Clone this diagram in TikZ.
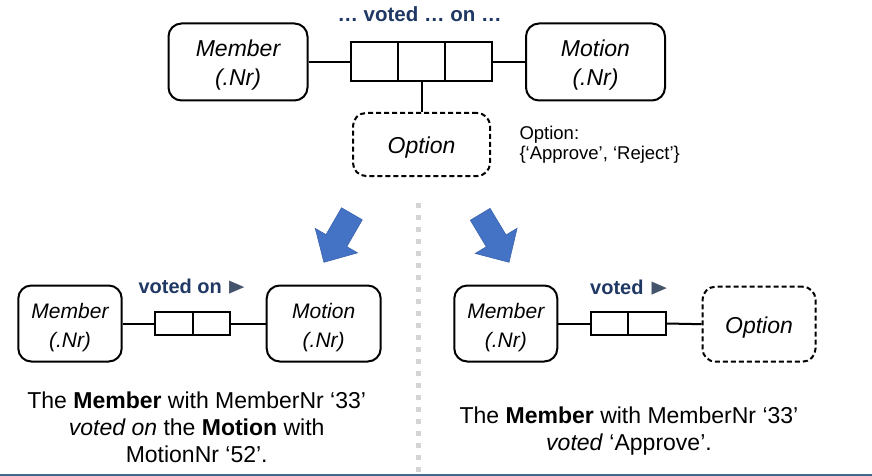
\documentclass[tikz,border=0pt]{standalone}
\usepackage{fontspec}
\usepackage{graphicx}
\setmainfont{Liberation Sans}
\newfontfamily\symfont{DejaVu Sans}
\newcommand{\lowertext}[2]{\raisebox{-#1}[\height][\depth]{#2}}
\definecolor{titleblue}{HTML}{1F3864}
\definecolor{trigray}{HTML}{44546A}
\definecolor{arrowblue}{HTML}{4472C4}
\definecolor{arrowedge}{HTML}{3B64AD}
\definecolor{sepgray}{HTML}{D4D4D4}
\definecolor{slideline}{HTML}{41688F}
\begin{document}
\begin{tikzpicture}[x=1pt,y=-1pt,
  ln/.style={line width=2pt},
  objbox/.style={draw, line width=2pt, rounded corners=13pt, align=center, inner sep=0pt},
  bigobj/.style={objbox, minimum width=139pt, minimum height=77pt, font=\fontsize{23}{29}\selectfont\itshape},
  bigopt/.style={objbox, dashed, dash pattern=on 5pt off 3pt, minimum width=137pt, minimum height=63pt, font=\fontsize{23}{29}\selectfont\itshape},
  smallobj/.style={objbox, minimum height=76pt, font=\fontsize{21}{28.5}\selectfont\itshape},
  smallopt/.style={objbox, dashed, dash pattern=on 5pt off 3pt, minimum width=113pt, minimum height=75pt, font=\fontsize{23}{28.5}\selectfont\itshape},
  bigcell/.style={draw, line width=2pt, minimum width=47pt, minimum height=39pt, inner sep=0pt},
  smallcell/.style={draw, line width=2pt, minimum width=37.5pt, minimum height=22.5pt, inner sep=0pt},
  verb/.style={inner sep=0pt, text=titleblue, font=\fontsize{20}{24}\selectfont\bfseries},
  pointer/.style={inner sep=0pt, text=trigray, font=\fontsize{20}{20}\selectfont\symfont},
  caption/.style={inner sep=0pt, align=center, font=\fontsize{23}{27}\selectfont},
  note/.style={inner sep=0pt, align=left, font=\fontsize{18.5}{20.5}\selectfont},
  bluearrow/.style={fill=arrowblue, draw=arrowedge, line width=0.6pt, line join=miter},
  sepline/.style={draw=sepgray, line width=5pt, dash pattern=on 5pt off 7pt}
]
\useasboundingbox (0,0) rectangle (872,476);

% ---------- top diagram ----------
\node[verb, font=\fontsize{20.5}{24}\selectfont\bfseries, anchor=base] (title) at (419.5,22) {… voted … on …};
\node[bigobj] (member) at (238,62) {\lowertext{3pt}{Member}\\\lowertext{3pt}{(.Nr)}};
\node[bigobj] (motion) at (595.5,62) {\lowertext{3pt}{Motion}\\\lowertext{3pt}{(.Nr)}};
\node[bigcell] (c1) at (374.5,62) {};
\node[bigcell] (c2) at (421.5,62) {};
\node[bigcell] (c3) at (468.5,62) {};
\node[bigopt] (option) at (421.5,144.5) {\lowertext{3pt}{Option}};
\draw[ln] (member.east) -- (c1.west);
\draw[ln] (c3.east) -- (motion.west);
\draw[ln] (c2.south) -- (option.north);
\node[note, anchor=north west] (optnote) at (519.3,125.5) {Option:\\\{‘Approve’, ‘Reject’\}};

% ---------- arrows and separator ----------
\path[bluearrow, shift={(351.9,213.8)}, rotate=-120]
  (0,-12) -- (31,-12) -- (31,-24.4) -- (56,0) -- (31,24.4) -- (31,12) -- (0,12) -- cycle;
\path[bluearrow, shift={(480.2,214.3)}, rotate=-59]
  (0,-11.5) -- (31,-11.5) -- (31,-24.4) -- (56,0) -- (31,24.4) -- (31,11.5) -- (0,11.5) -- cycle;
\path[sepline] (418,203) -- (418,474);

% ---------- bottom left ----------
\node[smallobj, minimum width=103.4pt] (memberL) at (70,323.5) {\lowertext{4pt}{Member}\\\lowertext{4pt}{(.Nr)}};
\node[smallobj, minimum width=114pt] (motionL) at (323.7,323.5) {\lowertext{4pt}{Motion}\\\lowertext{4pt}{(.Nr)}};
\node[smallcell] (l1) at (173.75,323.5) {};
\node[smallcell] (l2) at (211.25,323.5) {};
\draw[ln] (memberL.east) -- (l1.west);
\draw[ln] (l2.east) -- (motionL.west);
\node[verb, anchor=base west] (verbL) at (138.3,293) {voted on};
\node[pointer, anchor=west] (triL) at (229,287.5) {\scalebox{1}[1.33]{►}};
\node[caption, anchor=north] (capL) at (196.7,391.7)
  {The \textbf{Member} with MemberNr ‘33’\\\textit{voted on} the \textbf{Motion} with\\MotionNr ‘52’.};

% ---------- bottom right ----------
\node[smallobj, minimum width=103pt] (memberR) at (505.8,323.5) {\lowertext{4pt}{Member}\\\lowertext{4pt}{(.Nr)}};
\node[smallopt] (optionR) at (759,324.2) {\lowertext{3pt}{Option}};
\node[smallcell] (r1) at (609.45,323.5) {};
\node[smallcell] (r2) at (646.95,323.5) {};
\draw[ln] (memberR.east) -- (r1.west);
\draw[ln] (r2.east) -- (optionR.west);
\node[verb, anchor=base west] (verbR) at (590,294.5) {voted};
\node[pointer, anchor=west] (triR) at (651.3,289) {\scalebox{1}[1.33]{►}};
\node[caption, anchor=north] (capR) at (629,406.7)
  {The \textbf{Member} with MemberNr ‘33’\\\textit{voted} ‘Approve’.};

% ---------- slide edge ----------
\draw[draw=slideline, line width=2pt] (0,475) -- (872,475);
\end{tikzpicture}
\end{document}
